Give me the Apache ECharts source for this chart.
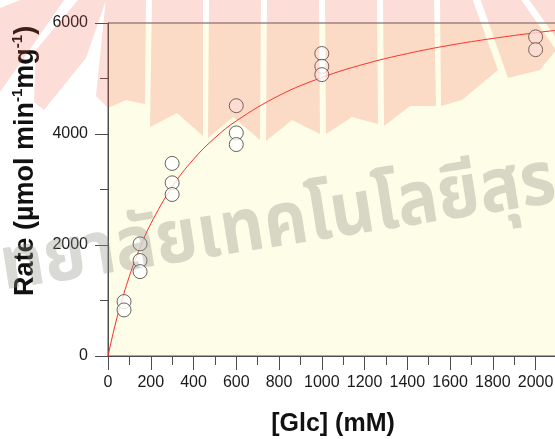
<!DOCTYPE html>
<html>
<head>
<meta charset="utf-8">
<script src="https://cdn.jsdelivr.net/npm/echarts@6/dist/echarts.min.js"></script>
<style>
  html, body { margin: 0; padding: 0; background: #ffffff; }
  #chart { width: 555px; height: 439px; }
</style>
</head>
<body>
<div id="chart"></div>
<script>
// Measured initial rates (replicates) at each glucose concentration
const glc  = [75, 75, 150, 150, 150, 300, 300, 300, 600, 600, 600, 1000, 1000, 1000, 2000, 2000];
const rate = [980, 830, 2020, 1720, 1520, 3470, 3120, 2910, 4510, 4020, 3810, 5450, 5220, 5070, 5750, 5520];

// Fitted saturation curve, read along its length
const fitGlc  = [0, 25, 50, 100, 150, 200, 300, 400, 500, 600, 800, 1000, 1200, 1400, 1600, 1800, 2000, 2100];
const fitRate = [0, 425, 801, 1437, 1953, 2381, 3048, 3545, 3930, 4236, 4693, 5018, 5261, 5449, 5600, 5722, 5825, 5870];

// Axis tick labels
const xTickLabels = ['0', '200', '400', '600', '800', '1000', '1200', '1400', '1600', '1800', '2000'];
const yTickLabels = ['0', '2000', '4000', '6000'];

const chart = echarts.init(document.getElementById('chart'), null, { renderer: 'canvas' });

const tickFont = { fontFamily: 'Liberation Sans, Arial, sans-serif', fontSize: 16, color: '#1a1a1a' };
const axisGray = '#4d4d4d';

// Decorative emblem overlay: rays across the top of the figure
const rayFill = 'rgba(238, 86, 60, 0.2)';
const rays = [
  [[0, 8], [0, 92], [24, 58], [64, 0], [20, 0]],
  [[34, 102], [44, 110], [86, 58], [106, 0], [78, 0], [36, 50]],
  [[106, -2], [146, -2], [145, 104], [126, 100], [108, 108], [96, 96]],
  [[152, -2], [203, -2], [203, 136], [177, 113], [150, 127]],
  [[209, -2], [261, -2], [260, 140], [233, 117], [208, 138]],
  [[267, -2], [319, -2], [320, 134], [292, 120], [266, 141]],
  [[325, -2], [377, -2], [378, 124], [352, 117], [326, 134]],
  [[383, -2], [434, -2], [436, 106], [410, 106], [384, 126]],
  [[440, -2], [472, -2], [498, 70], [462, 100], [441, 106]],
  [[480, -2], [520, -2], [556, 50], [540, 70], [508, 78]],
  [[528, -2], [556, -2], [556, 38]]
];

const graphics = rays.map(function (pts) {
  return {
    type: 'polygon', silent: true, z: 100,
    shape: { points: pts },
    style: { fill: rayFill }
  };
});

// Watermark lettering
graphics.push({
  type: 'text', silent: true, z: 101,
  x: 258, y: 234, rotation: 9 * Math.PI / 180, scaleX: 0.91,
  style: {
    text: 'มหาวิทยาลัยเทคโนโลยีสุรนารี',
    fontFamily: 'Noto Sans Thai, DejaVu Sans, Noto Sans, sans-serif',
    fontWeight: 'bold', fontSize: 75,
    fill: 'rgba(140, 139, 128, 0.33)',
    align: 'center', verticalAlign: 'middle'
  }
});

// Axis titles
graphics.push({
  type: 'text', silent: true, z: 50,
  x: 26, y: 161, rotation: Math.PI / 2,
  style: {
    text: '{b|Rate (µmol min}{s|-1}{b|mg}{s|-1}{b|)}',
    align: 'center', verticalAlign: 'middle',
    rich: {
      b: { fontFamily: 'Liberation Sans, Arial, sans-serif', fontWeight: 'bold', fontSize: 27, lineHeight: 31, fill: '#111' },
      s: { fontFamily: 'Liberation Sans, Arial, sans-serif', fontWeight: 'bold', fontSize: 15, lineHeight: 31, verticalAlign: 'top', fill: '#111' }
    }
  }
});
graphics.push({
  type: 'text', silent: true, z: 50,
  x: 333, y: 424,
  style: {
    text: '[Glc] (mM)',
    fontFamily: 'Liberation Sans, Arial, sans-serif', fontWeight: 'bold', fontSize: 25,
    fill: '#111', align: 'center', verticalAlign: 'middle'
  }
});

const option = {
  animation: false,
  backgroundColor: '#ffffff',
  grid: {
    left: 108, top: 23, right: -2, bottom: 83,
    show: true, backgroundColor: '#fefde8',
    borderColor: '#555', borderWidth: 1,
    containLabel: false, outerBoundsMode: 'none'
  },
  xAxis: {
    type: 'value', min: 0, max: 2100, interval: 200,
    axisLine: { show: true, onZero: false, lineStyle: { color: axisGray, width: 1 } },
    axisTick: { show: true, inside: false, length: 14, lineStyle: { color: axisGray } },
    minorTick: { show: true, splitNumber: 2, length: 9, lineStyle: { color: axisGray } },
    axisLabel: Object.assign({
      margin: 19, showMaxLabel: false,
      formatter: function (v) { const s = String(v); return xTickLabels.indexOf(s) >= 0 ? s : ''; }
    }, tickFont),
    splitLine: { show: false }
  },
  yAxis: {
    type: 'value', min: 0, max: 6000, interval: 2000,
    axisLine: { show: true, onZero: false, lineStyle: { color: axisGray, width: 1 } },
    axisTick: { show: true, inside: false, length: 13, lineStyle: { color: axisGray } },
    minorTick: { show: true, splitNumber: 2, length: 8, lineStyle: { color: axisGray } },
    axisLabel: Object.assign({
      margin: 20,
      formatter: function (v) { const s = String(v); return yTickLabels.indexOf(s) >= 0 ? s : ''; }
    }, tickFont),
    splitLine: { show: false }
  },
  series: [
    {
      type: 'line',
      data: fitGlc.map(function (x, i) { return [x, fitRate[i]]; }),
      smooth: 0.4, showSymbol: false, symbol: 'none',
      lineStyle: { color: '#ff2a2a', width: 1 },
      z: 2, silent: true
    },
    {
      type: 'scatter',
      data: glc.map(function (x, i) { return [x, rate[i]]; }),
      symbol: 'circle', symbolSize: 14,
      itemStyle: { color: '#ffffff', borderColor: '#3d3d3d', borderWidth: 1 },
      z: 3, silent: true
    }
  ],
  graphic: graphics
};

chart.setOption(option);
</script>
</body>
</html>
